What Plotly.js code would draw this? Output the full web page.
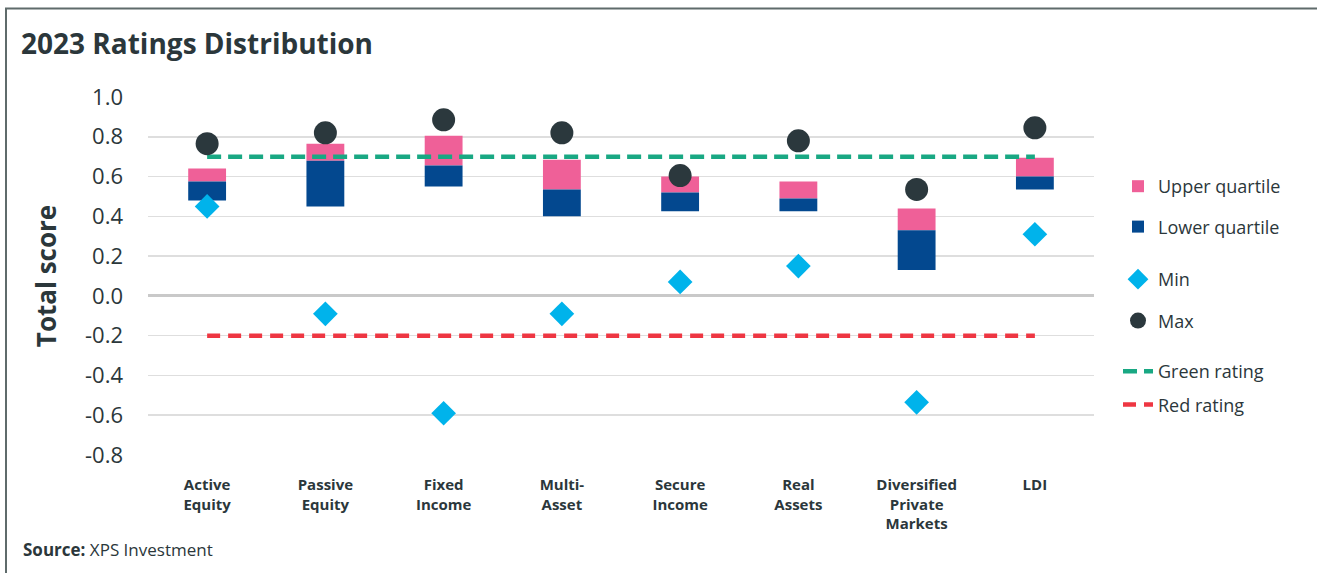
<!DOCTYPE html>
<html>
<head>
<meta charset="utf-8">
<script src="https://cdn.plot.ly/plotly-3.0.1.min.js"></script>
<style>
  html, body { margin: 0; padding: 0; background: #ffffff; }
  #chart { width: 1317px; height: 573px; }
</style>
</head>
<body>
<div id="chart"></div>
<script>
// ---- data ----
const categories = ["Active<br>Equity", "Passive<br>Equity", "Fixed<br>Income", "Multi-<br>Asset",
                    "Secure<br>Income", "Real<br>Assets", "Diversified<br>Private<br>Markets", "LDI"];
const lowerQuartile = [0.48, 0.45, 0.55, 0.40, 0.425, 0.425, 0.13, 0.535];
const medianScore   = [0.575, 0.68, 0.655, 0.535, 0.52, 0.49, 0.33, 0.60];
const upperQuartile = [0.64, 0.765, 0.805, 0.685, 0.60, 0.575, 0.44, 0.695];
const minScore = [0.45, -0.09, -0.59, -0.09, 0.07, 0.15, -0.535, 0.31];
const maxScore = [0.765, 0.82, 0.885, 0.82, 0.605, 0.78, 0.535, 0.845];
const greenRating = 0.7;
const redRating = -0.2;
const yTicks = [1.0, 0.8, 0.6, 0.4, 0.2, 0.0, -0.2, -0.4, -0.6, -0.8];

// ---- styling ----
const C = {
  pink: "#EF6098", blue: "#03488F", cyan: "#00B3EB", dark: "#2B383D",
  green: "#19A883", red: "#EE3642", text: "#2B373B", grid: "#DEDEDE", zero: "#C9C9C9", frame: "#5F6B6B"
};
const FONT = "'Open Sans', 'Noto Sans', sans-serif";

const lowerHeights = medianScore.map((m, i) => m - lowerQuartile[i]);
const upperHeights = upperQuartile.map((q, i) => q - medianScore[i]);

const traces = [
  { type: "bar", name: "Upper quartile", x: categories, y: upperHeights, base: medianScore,
    width: 0.32, marker: { color: C.pink, line: { width: 0 } }, legend: "legend", legendgroup: "uq", hoverinfo: "skip" },
  { type: "bar", name: "Lower quartile", x: categories, y: lowerHeights, base: lowerQuartile,
    width: 0.32, marker: { color: C.blue, line: { width: 0 } }, legend: "legend", legendgroup: "lq", hoverinfo: "skip" },
  { type: "scatter", mode: "lines", name: "Green rating", x: categories, y: categories.map(() => greenRating),
    line: { color: C.green, width: 4.5, dash: "14px,7px" }, legend: "legend3", legendgroup: "g" },
  { type: "scatter", mode: "lines", name: "Red rating", x: categories, y: categories.map(() => redRating),
    line: { color: C.red, width: 4.5, dash: "13px,8px" }, legend: "legend3", legendgroup: "r" },
  { type: "scatter", mode: "markers", name: "Min", x: categories, y: minScore,
    marker: { symbol: "diamond", size: 19, color: C.cyan }, legend: "legend2", legendgroup: "mn" },
  { type: "scatter", mode: "markers", name: "Max", x: categories, y: maxScore,
    marker: { symbol: "circle", size: 23, color: C.dark }, legend: "legend2", legendgroup: "mx" }
];

// plot area in pixels
const PL = 148, PR = 1094, PT = 97, PB = 455;
const px = v => (v - PL) / (PR - PL);
const py = v => (PB - v) / (PB - PT);

const legendBase = {
  xref: "container", yref: "container", x: 1118 / 1317, xanchor: "left", yanchor: "top",
  font: { family: FONT, size: 18, color: C.text }, bgcolor: "rgba(0,0,0,0)", borderwidth: 0,
  traceorder: "grouped", itemwidth: 30
};

const layout = {
  width: 1317, height: 573,
  paper_bgcolor: "#ffffff", plot_bgcolor: "#ffffff",
  margin: { l: PL, r: 1317 - PR, t: PT, b: 573 - PB, pad: 0 },
  barmode: "overlay",
  showlegend: true,
  title: { text: "<b>2023 Ratings Distribution</b>", font: { family: FONT, size: 28, color: C.text },
           xref: "container", yref: "container", x: 21 / 1317, xanchor: "left", y: 1 - 44 / 573, yanchor: "middle" },
  xaxis: {
    type: "category", showgrid: false, zeroline: false, showline: false, ticks: "",
    tickfont: { family: FONT, size: 15, color: C.text, weight: 700 }, ticklabelstandoff: 19,
    range: [-0.5, categories.length - 0.5], fixedrange: true
  },
  yaxis: {
    range: [-0.8, 1.0], tickvals: yTicks, ticktext: yTicks.map(v => v.toFixed(1)),
    showgrid: true, gridcolor: C.grid, gridwidth: 1.5,
    zeroline: true, zerolinecolor: C.zero, zerolinewidth: 3,
    showline: false, ticks: "", ticklabelstandoff: 24,
    tickfont: { family: FONT, size: 22, color: C.text },
    title: { text: "<b>Total score</b>", font: { family: FONT, size: 26, color: C.text }, standoff: 20 },
    fixedrange: true
  },
  legend: Object.assign({}, legendBase, { y: 1 - 168 / 573, tracegroupgap: 14 }),
  legend2: Object.assign({}, legendBase, { y: 1 - 261 / 573, tracegroupgap: 15 }),
  legend3: Object.assign({}, legendBase, { y: 1 - 353 / 573, tracegroupgap: 7 }),
  annotations: [
    { text: "<b>Source:</b> XPS Investment", xref: "paper", yref: "paper", x: px(21), y: py(549),
      xanchor: "left", yanchor: "middle", showarrow: false, font: { family: FONT, size: 17, color: C.text } }
  ],
  shapes: [
    { type: "line", xref: "paper", yref: "paper", x0: px(6), x1: px(6), y0: py(8.5), y1: py(580),
      line: { color: C.frame, width: 2 }, layer: "above" },
    { type: "line", xref: "paper", yref: "paper", x0: px(5), x1: px(1330), y0: py(8.5), y1: py(8.5),
      line: { color: C.frame, width: 2 }, layer: "above" }
  ]
};

Plotly.newPlot("chart", traces, layout, { displayModeBar: false, staticPlot: true });
</script>
</body>
</html>
